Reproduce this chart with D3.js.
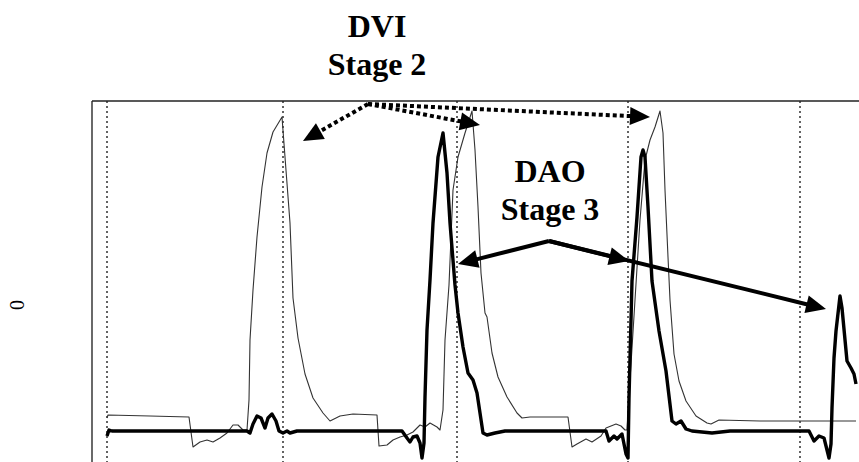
<!DOCTYPE html>
<html lang="en">
<head>
<meta charset="UTF-8">
<title>DVI / DAO pressure traces</title>
<script src="https://cdn.jsdelivr.net/npm/d3@7"></script>
<style>
  body { margin: 0; background: #fff; }
  svg { display: block; }
</style>
</head>
<body>
<script>
    // time in ms, pressure in arbitrary units (0 = DAO baseline)
    var dviTime = [37.5, 40, 145, 242.5, 252.5, 270, 287.5, 302.5, 320, 337.5, 352.5, 365, 377.5, 387.5,
        392.5, 395, 402.5, 412.5, 425, 437.5, 452.5, 475, 482.5, 495, 502.5, 515, 532.5, 552.5, 577.5, 595,
        620, 652.5, 712.5, 717.5, 737.5, 752.5, 770, 787.5, 802.5, 820, 832.5, 845, 862.5, 870, 877.5, 882.5,
        892.5, 902.5, 915, 932.5, 950, 957.5, 965, 972.5, 982.5, 987.5, 1000, 1015, 1037.5, 1062.5, 1075, 1095,
        1190, 1200, 1212.5, 1235, 1250, 1272.5, 1285, 1310, 1322.5, 1332.5, 1337.5, 1345, 1357.5, 1370, 1382.5,
        1395, 1407.5, 1420, 1427.5, 1432.5, 1440, 1445, 1455, 1467.5, 1485, 1510, 1537.5, 1547.5, 1567.5, 1670, 1910];
    var dviValue = [3.25, 4, 3.75, 3.5, -4, -2.75, -2.25, -2.75, -1.75, -0.5, 1.5, 1.5, 0.25, 0.25,
        7.75, 22.75, 35.25, 48.5, 61, 69.5, 74.75, 78.5, 68.5, 52, 33.25, 23.25, 14.25, 8.25, 4.5, 2.5,
        3.75, 4.25, 4, -3.75, -3.5, -2.25, -1.5, -1, -0.25, 1.5, 1, 2, 1, 0.25, 5.25, 22.75,
        36.5, 60.25, 68.5, 74.5, 80, 70.25, 56, 39.5, 29.5, 28.5, 19.5, 13.5, 8.5, 4.5, 3.25, 3.5,
        3.5, -4, -3.25, -2, -2.75, -1.25, 0.75, 1.75, 1.25, 0.25, 0.25, 12.75, 32.75, 52.75, 67.75,
        72.75, 76, 80, 74.5, 60.25, 43.5, 32.75, 19.25, 12.5, 7.5, 3.75, 2, 1.75, 2.75, 2.5, 2.5];

    var daoTime = [37.5, 42.5, 50, 387.5, 395, 402.5, 412.5, 422.5, 432.5, 440, 450, 460, 467.5, 477.5, 487.5,
        495, 512.5, 775, 787.5, 795, 802.5, 812.5, 820, 825, 830, 832.5, 837.5, 845, 852.5, 865, 877.5, 887.5,
        895, 907.5, 915, 927.5, 940, 952.5, 962.5, 970, 977.5, 987.5, 1007.5, 1032.5, 1285, 1292.5, 1305, 1312.5,
        1325, 1335, 1340, 1342.5, 1350, 1362.5, 1372.5, 1377.5, 1382.5, 1390, 1400, 1417.5, 1435, 1450, 1460,
        1472.5, 1485, 1500, 1550, 1595, 1792.5, 1805, 1817.5, 1830, 1842.5, 1847.5, 1850, 1855, 1860, 1870,
        1875, 1887.5, 1897.5, 1905, 1910];
    var daoValue = [-1.25, 0.25, 0, 0, -0.5, 1.75, 3.75, 3.25, 0.75, 3.25, 4.25, 2.5, 0, -0.5, 0,
        -0.5, 0, 0, -1.75, -2.75, -1.5, -1.25, -3, -6.75, -3, 8.5, 25.25, 37.75, 52, 68.5, 74.5, 64.5,
        52, 36.5, 29.5, 21, 14.5, 12.75, 9.5, 4.5, -0.5, -1, -0.5, 0, 0, -2.5, -1.25, -2,
        -0.75, -5.75, -6.75, 8.25, 37.5, 53.5, 68.5, 70.25, 68.5, 56, 37.5, 25, 15, 2.5, 1.75,
        2.5, 0.5, 0, -0.5, 0, 0, -2.5, -1.25, -1.75, -6.75, -3.25, 5.75, 18.25, 25, 33.75,
        30.75, 17.5, 15.75, 14.25, 11.75];

    // beat markers (vertical dotted lines)
    var beatTimes = [37.5, 477.5, 912.5, 1340, 1770];

    // annotation arrows: [from time, from value, to time, to value]
    var dviArrows = [[690, 81.75, 527.5, 72.5], [690, 81.75, 970, 76.5], [690, 81.75, 1395, 78.5]];
    var daoArrows = [[1142.5, 47.5, 915, 41.75], [1142.5, 47.5, 1342.5, 42.5], [1142.5, 47.5, 1835, 30.5]];

    var width = 859, height = 462;
    var svg = d3.select("body").append("svg")
        .attr("width", width)
        .attr("height", height);

    var x = d3.scaleLinear().domain([0, 1920]).range([92, 860]);
    var y = d3.scaleLinear().domain([0, 80]).range([431, 111]);
    var frameTop = 101;

    // frame: left and top only
    svg.append("line").attr("x1", 92).attr("x2", 92).attr("y1", frameTop).attr("y2", height)
        .attr("stroke", "#444").attr("stroke-width", 1.6);
    svg.append("line").attr("x1", 92).attr("x2", width).attr("y1", frameTop).attr("y2", frameTop)
        .attr("stroke", "#222").attr("stroke-width", 1.6);

    svg.selectAll(".beat")
        .data(beatTimes)
        .enter().append("line")
        .attr("class", "beat")
        .attr("x1", function (d) { return x(d); })
        .attr("x2", function (d) { return x(d); })
        .attr("y1", frameTop)
        .attr("y2", height)
        .attr("stroke", "#222")
        .attr("stroke-width", 1.4)
        .attr("stroke-dasharray", "2,3");

    var line = d3.line()
        .x(function (d) { return x(d[0]); })
        .y(function (d) { return y(d[1]); });

    var dvi = d3.zip(dviTime, dviValue);
    var dao = d3.zip(daoTime, daoValue);

    svg.append("path").datum(dvi)
        .attr("d", line)
        .attr("fill", "none")
        .attr("stroke", "#333")
        .attr("stroke-width", 1.1)
        .attr("stroke-linejoin", "round");

    svg.append("path").datum(dao)
        .attr("d", line)
        .attr("fill", "none")
        .attr("stroke", "#000")
        .attr("stroke-width", 3.4)
        .attr("stroke-linejoin", "round");

    // arrow with a filled triangular head
    function arrow(a, dashed, w) {
        var x1 = x(a[0]), y1 = y(a[1]), x2 = x(a[2]), y2 = y(a[3]);
        var dx = x2 - x1, dy = y2 - y1, len = Math.sqrt(dx * dx + dy * dy);
        var ux = dx / len, uy = dy / len;
        var hl = 20, hw = 9;
        var bx = x2 - ux * hl, by = y2 - uy * hl;
        svg.append("line")
            .attr("x1", x1).attr("y1", y1)
            .attr("x2", bx + ux * 2).attr("y2", by + uy * 2)
            .attr("stroke", "#000")
            .attr("stroke-width", w)
            .attr("stroke-dasharray", dashed ? "4,3" : null);
        svg.append("polygon")
            .attr("points", [[x2, y2], [bx - uy * hw, by + ux * hw], [bx + uy * hw, by - ux * hw]]
                .map(function (p) { return p.join(","); }).join(" "))
            .attr("fill", "#000");
    }
    dviArrows.forEach(function (a) { arrow(a, true, 4); });
    daoArrows.forEach(function (a) { arrow(a, false, 4); });

    var font = "'Liberation Serif', 'Times New Roman', serif";
    function label(txt, cx, by) {
        svg.append("text")
            .attr("x", cx).attr("y", by)
            .attr("text-anchor", "middle")
            .attr("font-family", font)
            .attr("font-weight", "bold")
            .attr("font-size", 32)
            .text(txt);
    }
    label("DVI", 377, 37);
    label("Stage 2", 377, 75);
    label("DAO", 550, 182);
    label("Stage 3", 550, 220);

    // y axis label
    svg.append("text")
        .attr("transform", "translate(24,305) rotate(-90)")
        .attr("text-anchor", "middle")
        .attr("font-family", font)
        .attr("font-size", 20)
        .text("0");
</script>
</body>
</html>
